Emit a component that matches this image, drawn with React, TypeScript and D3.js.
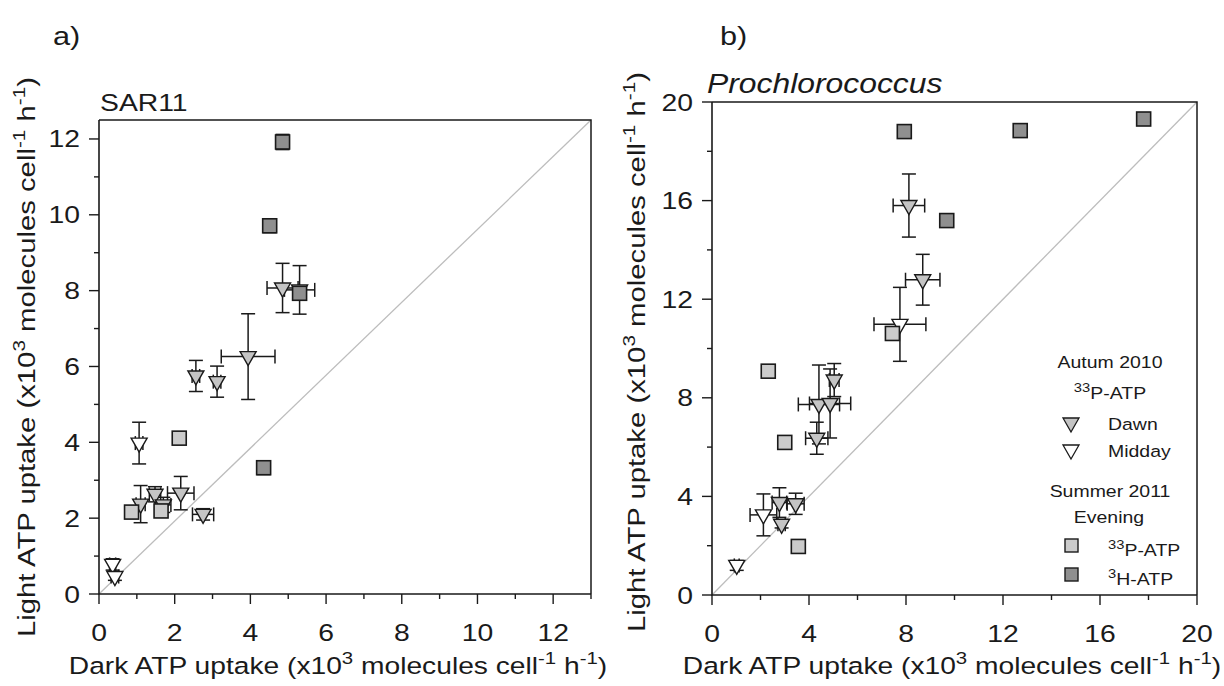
import React from "react";
import * as d3 from "d3";

// ---------- Panel a: SAR11 ----------
const aDawnX = [4.85, 5.3, 3.94, 2.56, 3.12, 1.1, 1.48, 1.7, 2.16, 2.75];
const aDawnY = [8.07, 8.02, 6.26, 5.75, 5.6, 2.37, 2.63, 2.35, 2.66, 2.1];
const aDawnXErr = [0.41, 0.4, 0.71, 0.1, 0.1, 0.12, 0.15, 0.2, 0.35, 0.28];
const aDawnYErr = [0.65, 0.64, 1.13, 0.41, 0.41, 0.49, 0.2, 0.2, 0.44, 0.15];

const aMiddayX = [1.06, 0.36, 0.42];
const aMiddayY = [3.98, 0.78, 0.46];
const aMiddayXErr = [0.1, 0.08, 0.1];
const aMiddayYErr = [0.55, 0.15, 0.1];

const aP33X = [0.86, 1.64, 2.12];
const aP33Y = [2.16, 2.19, 4.11];
const aP33Err = [0.05, 0.05, 0.05];

const aH3X = [4.85, 4.51, 5.3, 4.35];
const aH3Y = [11.92, 9.71, 7.93, 3.33];
const aH3Err = [0.2, 0.18, 0.1, 0.18];

// ---------- Panel b: Prochlorococcus ----------
const bDawnX = [8.12, 8.69, 5.04, 4.41, 4.87, 4.32, 2.78, 3.45, 2.87];
const bDawnY = [15.8, 12.79, 8.72, 7.73, 7.77, 6.36, 3.75, 3.7, 2.87];
const bDawnXErr = [0.65, 0.71, 0.2, 0.85, 0.85, 0.46, 0.3, 0.35, 0.15];
const bDawnYErr = [1.28, 1.03, 0.67, 1.6, 1.4, 0.65, 0.6, 0.43, 0.15];

const bMiddayX = [7.75, 2.12, 1.02];
const bMiddayY = [10.98, 3.25, 1.2];
const bMiddayXErr = [1.07, 0.55, 0.1];
const bMiddayYErr = [1.5, 0.85, 0.2];

const bP33X = [2.32, 3.0, 7.44, 3.56];
const bP33Y = [9.08, 6.19, 10.61, 1.97];
const bP33Err = [0.1, 0.1, 0.1, 0.1];

const bH3X = [7.93, 12.71, 17.8, 9.68];
const bH3Y = [18.8, 18.84, 19.31, 15.19];
const bH3Err = [0.25, 0.1, 0.1, 0.2];

const aXTicks = d3.range(0, 14, 1);
const aYTicks = d3.range(0, 13, 1);
const aLabelEvery = 2;
const bTicks = d3.range(0, 22, 2);
const bLabelEvery = 4;

const legendGroups = ["Autum 2010", "Summer 2011"];
const legendSub = ["Evening"];
const legendDawn = "Dawn";
const legendMidday = "Midday";

const FONT = "'Liberation Sans', Arial, Helvetica, sans-serif";
const INK = "#1a1a1a";
const DAWN_FILL = "#c4c4c4";
const MIDDAY_FILL = "#ffffff";
const P33_FILL = "#cbcbcb";
const H3_FILL = "#8f8f8f";
const SX = 1.18;

type Pt = { x: number; y: number; xe: number; ye: number };
const zip = (xs: number[], ys: number[], xe: number[], ye: number[]): Pt[] =>
  xs.map((x, i) => ({ x, y: ys[i], xe: xe[i], ye: ye[i] }));

const tri = (cx: number, cy: number) =>
  `M${cx - 8},${cy - 5}L${cx + 8},${cy - 5}L${cx},${cy + 9}Z`;

function ErrBars({ pts, xs, ys }: { pts: Pt[]; xs: any; ys: any }) {
  const cap = 7;
  return (
    <g stroke={INK} strokeWidth={1.5} fill="none">
      {pts.map((p, i) => {
        const cx = xs(p.x), cy = ys(p.y);
        const y1 = ys(p.y + p.ye), y2 = ys(p.y - p.ye);
        const x1 = xs(p.x - p.xe), x2 = xs(p.x + p.xe);
        return (
          <g key={i}>
            {p.ye > 0 && (
              <>
                <line x1={cx} x2={cx} y1={y1} y2={y2} />
                <line x1={cx - cap} x2={cx + cap} y1={y1} y2={y1} />
                <line x1={cx - cap} x2={cx + cap} y1={y2} y2={y2} />
              </>
            )}
            {p.xe > 0 && (
              <>
                <line x1={x1} x2={x2} y1={cy} y2={cy} />
                <line x1={x1} x2={x1} y1={cy - cap} y2={cy + cap} />
                <line x1={x2} x2={x2} y1={cy - cap} y2={cy + cap} />
              </>
            )}
          </g>
        );
      })}
    </g>
  );
}

function Tris({ pts, xs, ys, fill }: { pts: Pt[]; xs: any; ys: any; fill: string }) {
  return (
    <g fill={fill} stroke={INK} strokeWidth={1.4} strokeLinejoin="miter">
      {pts.map((p, i) => (
        <path key={i} d={tri(xs(p.x), ys(p.y))} />
      ))}
    </g>
  );
}

function Squares({ pts, xs, ys, fill }: { pts: Pt[]; xs: any; ys: any; fill: string }) {
  return (
    <g fill={fill} stroke={INK} strokeWidth={1.6}>
      {pts.map((p, i) => (
        <rect key={i} x={xs(p.x) - 7} y={ys(p.y) - 7} width={14} height={14} />
      ))}
    </g>
  );
}

function T({
  x, y, children, size = 24, anchor = "start", rotate = 0, sx = SX, italic = false,
}: any) {
  return (
    <text
      transform={`translate(${x},${y}) rotate(${rotate}) scale(${sx},1)`}
      fontSize={size}
      textAnchor={anchor}
      fontFamily={FONT}
      fill={INK}
      fontStyle={italic ? "italic" : "normal"}
    >
      {children}
    </text>
  );
}

function AxisLabel({ prefix, x, y, rotate, sx, size }: any) {
  const sup = 17;
  const up = -10;
  return (
    <T x={x} y={y} rotate={rotate} sx={sx} size={size} anchor="middle">
      {prefix} ATP uptake (x10
      <tspan dy={up} fontSize={sup}>3</tspan>
      <tspan dy={-up}> molecules cell</tspan>
      <tspan dy={up} fontSize={sup}>-1</tspan>
      <tspan dy={-up}> h</tspan>
      <tspan dy={up} fontSize={sup}>-1</tspan>
      <tspan dy={-up}>)</tspan>
    </T>
  );
}

function Panel({
  xs, ys, xTicks, yTicks, labelEvery, dawn, midday, p33, h3,
}: any) {
  const [x0, x1] = xs.range();
  const [y0, y1] = ys.range();
  const [dx0, dx1] = xs.domain();
  const [dy0, dy1] = ys.domain();
  return (
    <g>
      <line x1={xs(dx0)} y1={ys(dy0)} x2={xs(dx1)} y2={ys(dy1)} stroke="#bdbdbd" strokeWidth={1.3} />
      <path d={`M${x0},${y1}L${x1},${y1}L${x1},${y0}`} fill="none" stroke={INK} strokeWidth={1.5} />
      <path d={`M${x0},${y1}L${x0},${y0}L${x1},${y0}`} fill="none" stroke={INK} strokeWidth={1.6} />
      {xTicks.map((t: number) => {
        const major = t % labelEvery === 0;
        return (
          <g key={"x" + t}>
            <line x1={xs(t)} x2={xs(t)} y1={y0} y2={y0 + (major ? 10 : 5)} stroke={INK} strokeWidth={1.4} />
            {major && (
              <T x={xs(t)} y={y0 + 47} anchor="middle">{t}</T>
            )}
          </g>
        );
      })}
      {yTicks.map((t: number) => {
        const major = t % labelEvery === 0;
        return (
          <g key={"y" + t}>
            <line x1={x0} x2={x0 - (major ? 10 : 5)} y1={ys(t)} y2={ys(t)} stroke={INK} strokeWidth={1.4} />
            {major && (
              <T x={x0 - 19} y={ys(t) + 8.5} anchor="end">{t}</T>
            )}
          </g>
        );
      })}
      <ErrBars pts={[...dawn, ...midday, ...p33, ...h3]} xs={xs} ys={ys} />
      <Tris pts={dawn} xs={xs} ys={ys} fill={DAWN_FILL} />
      <Tris pts={midday} xs={xs} ys={ys} fill={MIDDAY_FILL} />
      <Squares pts={p33} xs={xs} ys={ys} fill={P33_FILL} />
      <Squares pts={h3} xs={xs} ys={ys} fill={H3_FILL} />
    </g>
  );
}

export default function App() {
  const axs = d3.scaleLinear().domain([0, 13]).range([99, 591]);
  const ays = d3.scaleLinear().domain([0, 12.5]).range([594, 120]);
  const bxs = d3.scaleLinear().domain([0, 20]).range([712, 1197]);
  const bys = d3.scaleLinear().domain([0, 20]).range([595, 102]);

  const aDawn = zip(aDawnX, aDawnY, aDawnXErr, aDawnYErr);
  const aMid = zip(aMiddayX, aMiddayY, aMiddayXErr, aMiddayYErr);
  const aP = zip(aP33X, aP33Y, aP33Err, aP33Err);
  const aH = zip(aH3X, aH3Y, aH3Err.map(() => 0.05), aH3Err);
  const bDawn = zip(bDawnX, bDawnY, bDawnXErr, bDawnYErr);
  const bMid = zip(bMiddayX, bMiddayY, bMiddayXErr, bMiddayYErr);
  const bP = zip(bP33X, bP33Y, bP33Err, bP33Err);
  const bH = zip(bH3X, bH3Y, bH3Err.map(() => 0.1), bH3Err);

  const lx = 1071;
  const tx = 1108;
  const cx = 1110;

  return (
    <svg
      width={1224}
      height={686}
      style={{ position: "absolute", left: 0, top: 0, background: "#fff" }}
    >
      <rect width={1224} height={686} fill="#fff" />
      <T x={53} y={45} size={26}>a)</T>
      <T x={720} y={45} size={26}>b)</T>
      <T x={100} y={111} size={24}>SAR11</T>
      <T x={707} y={93} size={27} italic>Prochlorococcus</T>

      <Panel xs={axs} ys={ays} xTicks={aXTicks} yTicks={aYTicks} labelEvery={aLabelEvery}
        dawn={aDawn} midday={aMid} p33={aP} h3={aH} />
      <Panel xs={bxs} ys={bys} xTicks={bTicks} yTicks={bTicks} labelEvery={bLabelEvery}
        dawn={bDawn} midday={bMid} p33={bP} h3={bH} />

      <AxisLabel prefix="Dark" x={338} y={674} rotate={0} sx={1.2} size={23.5} />
      <AxisLabel prefix="Dark" x={952} y={674} rotate={0} sx={1.2} size={23.5} />
      <AxisLabel prefix="Light" x={35} y={357} rotate={-90} sx={1.22} size={24} />
      <AxisLabel prefix="Light" x={645} y={352} rotate={-90} sx={1.22} size={24} />

      <T x={cx} y={368} size={16.5} anchor="middle">{legendGroups[0]}</T>
      <T x={cx} y={399} size={16.5} anchor="middle">
        <tspan dy={-7} fontSize={12.5}>33</tspan>
        <tspan dy={7}>P-ATP</tspan>
      </T>
      <path d={tri(lx, 423)} fill={DAWN_FILL} stroke={INK} strokeWidth={1.3} />
      <T x={tx} y={430} size={16.5}>{legendDawn}</T>
      <path d={tri(lx, 450)} fill={MIDDAY_FILL} stroke={INK} strokeWidth={1.3} />
      <T x={tx} y={457} size={16.5}>{legendMidday}</T>
      <T x={cx} y={497} size={16.5} anchor="middle">{legendGroups[1]}</T>
      <T x={cx - 1} y={523} size={16.5} anchor="middle">{legendSub[0]}</T>
      <rect x={lx - 6} y={539} width={13} height={13} fill={P33_FILL} stroke={INK} strokeWidth={1.4} />
      <T x={tx} y={556} size={16.5}>
        <tspan dy={-7} fontSize={12.5}>33</tspan>
        <tspan dy={7}>P-ATP</tspan>
      </T>
      <rect x={lx - 6} y={568} width={13} height={13} fill={H3_FILL} stroke={INK} strokeWidth={1.4} />
      <T x={tx} y={585} size={16.5}>
        <tspan dy={-7} fontSize={12.5}>3</tspan>
        <tspan dy={7}>H-ATP</tspan>
      </T>
    </svg>
  );
}
